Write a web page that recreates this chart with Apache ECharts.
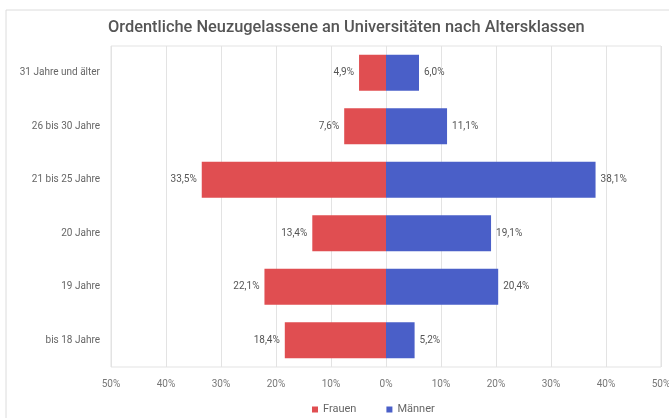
<!DOCTYPE html>
<html>
<head>
<meta charset="utf-8">
<script src="https://cdn.jsdelivr.net/npm/echarts@6/dist/echarts.min.js"></script>
<style>
  html, body { margin: 0; padding: 0; background: #fff; }
  #chart { width: 669px; height: 418px; }
</style>
</head>
<body>
<div id="chart"></div>
<script>
// Age groups, bottom to top
const categories = ['bis 18 Jahre', '19 Jahre', '20 Jahre', '21 bis 25 Jahre', '26 bis 30 Jahre', '31 Jahre und älter'];
// Share of new students in percent
const frauen = [18.4, 22.1, 13.4, 33.5, 7.6, 4.9];
const maenner = [5.2, 20.4, 19.1, 38.1, 11.1, 6.0];
const seriesNames = ['Frauen', 'Männer'];
const colors = ['#e04e51', '#4a5fc8'];

const fmtPct = v => Math.abs(v).toFixed(1).replace('.', ',') + '%';
const FONT = 'Roboto, "Liberation Sans", Arial, sans-serif';

const chart = echarts.init(document.getElementById('chart'), null, { renderer: 'canvas' });
chart.setOption({
  animation: false,
  textStyle: { fontFamily: FONT },
  graphic: [{
    type: 'rect',
    shape: { x: 6, y: 10, width: 700, height: 500 },
    style: { fill: 'none', stroke: '#dcdcdc', lineWidth: 1 },
    silent: true
  }],
  title: {
    text: 'Ordentliche Neuzugelassene an Universitäten nach Altersklassen',
    left: 103, top: 15,
    textStyle: { fontFamily: FONT, fontSize: 16.4, fontWeight: 500, color: '#555' }
  },
  legend: {
    top: 399, left: 307,
    itemWidth: 6, itemHeight: 6, itemGap: 30, icon: 'rect',
    textStyle: { fontFamily: FONT, fontSize: 11, color: '#666' },
    data: seriesNames
  },
  grid: {
    left: 111, right: 8, top: 46, bottom: 51,
    outerBoundsMode: 'none', containLabel: false,
    show: true, borderColor: '#e3e3e3', borderWidth: 1
  },
  xAxis: {
    type: 'value', min: -50, max: 50, interval: 10,
    axisLine: { show: false }, axisTick: { show: false },
    splitLine: { lineStyle: { color: '#e3e3e3' } },
    axisLabel: { formatter: v => Math.abs(v) + '%', color: '#777', fontSize: 10, margin: 12, fontFamily: FONT }
  },
  yAxis: {
    type: 'category', data: categories,
    axisLine: { show: false }, axisTick: { show: false },
    axisLabel: { color: '#666', fontSize: 10, margin: 11, fontFamily: FONT }
  },
  series: [
    {
      name: seriesNames[0], type: 'bar', stack: 'total',
      data: frauen.map(v => -v),
      barCategoryGap: '33%',
      itemStyle: { color: colors[0] },
      label: { show: true, position: 'left', distance: 5, formatter: p => fmtPct(p.value), color: '#555', fontSize: 10, fontFamily: FONT }
    },
    {
      name: seriesNames[1], type: 'bar', stack: 'total',
      data: maenner,
      barCategoryGap: '33%',
      itemStyle: { color: colors[1] },
      label: { show: true, position: 'right', distance: 5, formatter: p => fmtPct(p.value), color: '#555', fontSize: 10, fontFamily: FONT }
    }
  ]
});
</script>
</body>
</html>
